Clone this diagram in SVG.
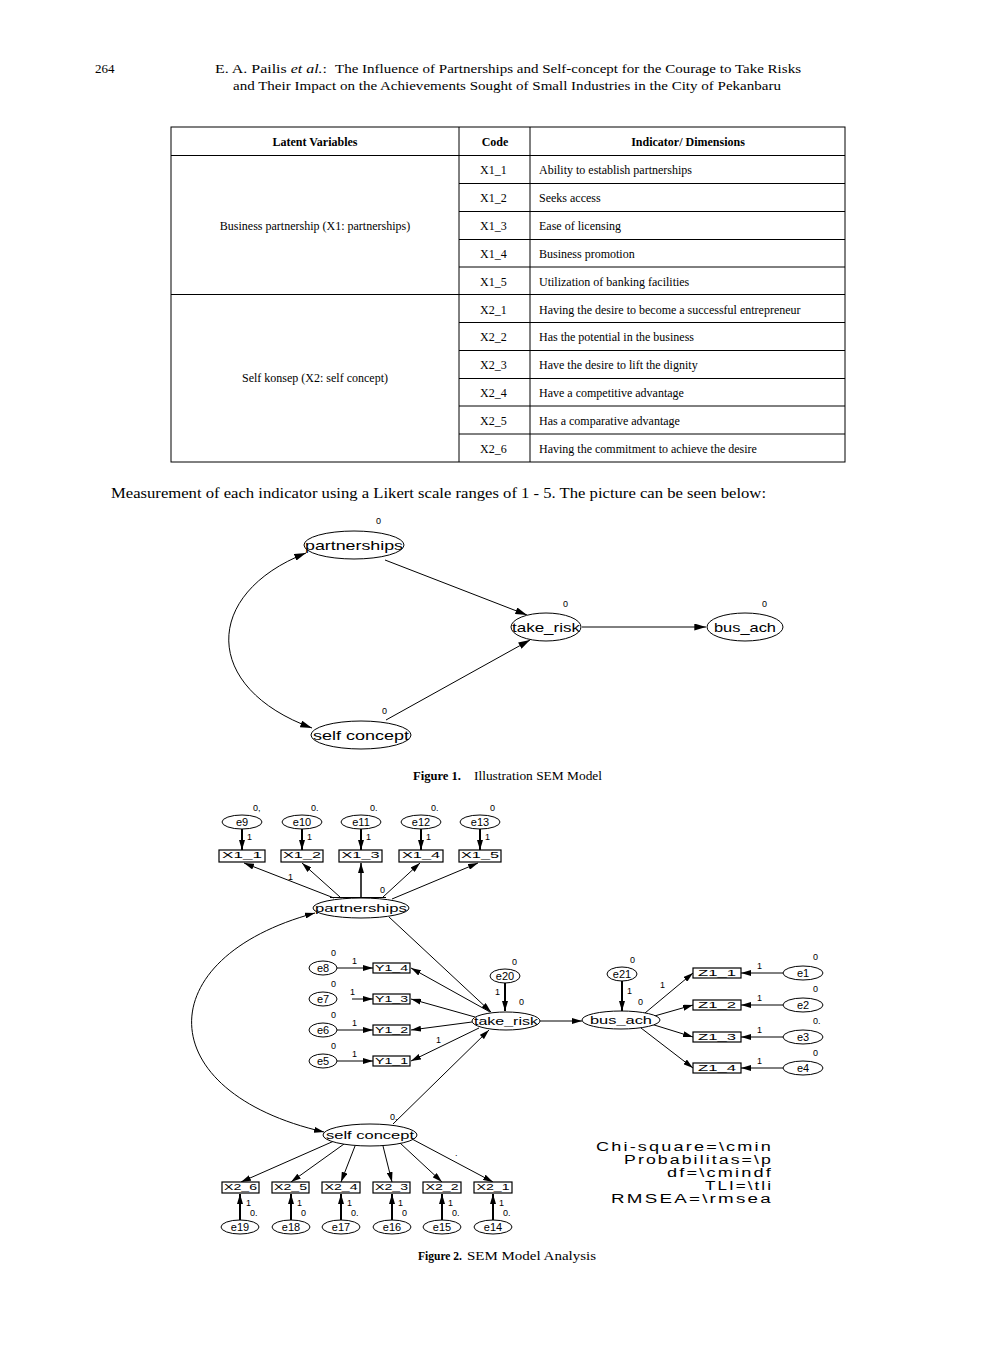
<svg xmlns="http://www.w3.org/2000/svg" width="992" height="1347" viewBox="0 0 992 1347">
<defs>
<marker id="ah" viewBox="0 0 10 6" refX="10" refY="3" markerWidth="12" markerHeight="7" markerUnits="userSpaceOnUse" orient="auto-start-reverse"><path d="M0,0 L10,3 L0,6 Z" fill="#000"/></marker>
<marker id="ahs" viewBox="0 0 10 6" refX="10" refY="3" markerWidth="10" markerHeight="6" markerUnits="userSpaceOnUse" orient="auto-start-reverse"><path d="M0,0 L10,3 L0,6 Z" fill="#000"/></marker>
<style>
.serif{font-family:"Liberation Serif","Times New Roman",serif;fill:#000}
.hd{font-size:13px}
.tb{font-size:12px}
.tbb{font-size:12px;font-weight:bold}
.cap{font-size:12px}
.sans{font-family:"Liberation Sans",Arial,sans-serif;fill:#000}
.n1{font-size:13px}
.n2{font-size:11px}
.bl{font-size:9.5px}
.sm{font-size:9px}
.st{font-size:12.5px;letter-spacing:1.5px}
.ln{stroke:#000;stroke-width:1;fill:none}
.ar{stroke:#000;stroke-width:1;fill:none;marker-end:url(#ah)}
.ar2{stroke:#000;stroke-width:1;fill:none;marker-end:url(#ahs)}
.tk{stroke:#000;stroke-width:2;fill:none;marker-end:url(#ahs)}
.el{fill:#fff;stroke:#000;stroke-width:1}
.bx{fill:#fff;stroke:#000;stroke-width:1.2}
.grid{stroke:#000;stroke-width:1;fill:none}
</style>
</defs>
<rect width="992" height="1347" fill="#fff"/>

<!-- Header -->
<g id="header">
<text class="serif hd" x="95" y="73">264</text>
<text class="serif hd" x="215" y="73" textLength="112" lengthAdjust="spacingAndGlyphs">E. A. Pailis <tspan font-style="italic">et al.</tspan>:</text>
<text class="serif hd" x="335" y="73" textLength="466" lengthAdjust="spacingAndGlyphs">The Influence of Partnerships and Self-concept for the Courage to Take Risks</text>
<text class="serif hd" x="233" y="90" textLength="548" lengthAdjust="spacingAndGlyphs">and Their Impact on the Achievements Sought of Small Industries in the City of Pekanbaru</text>
</g>

<!-- Table -->
<g id="table">
<rect class="grid" x="171" y="127" width="674" height="335"/>
<line class="grid" x1="459" y1="127" x2="459" y2="462"/>
<line class="grid" x1="530" y1="127" x2="530" y2="462"/>
<line class="grid" x1="171" y1="155.5" x2="845" y2="155.5"/>
<line class="grid" x1="171" y1="294.5" x2="845" y2="294.5"/>
<g class="grid">
<line x1="459" y1="183.5" x2="845" y2="183.5"/>
<line x1="459" y1="211.5" x2="845" y2="211.5"/>
<line x1="459" y1="239.5" x2="845" y2="239.5"/>
<line x1="459" y1="267" x2="845" y2="267"/>
<line x1="459" y1="322.5" x2="845" y2="322.5"/>
<line x1="459" y1="350.5" x2="845" y2="350.5"/>
<line x1="459" y1="378.5" x2="845" y2="378.5"/>
<line x1="459" y1="406" x2="845" y2="406"/>
<line x1="459" y1="434" x2="845" y2="434"/>
</g>
<text class="serif tbb" x="315" y="146" text-anchor="middle">Latent Variables</text>
<text class="serif tbb" x="495" y="146" text-anchor="middle">Code</text>
<text class="serif tbb" x="688" y="146" text-anchor="middle">Indicator/ Dimensions</text>
<text class="serif tb" x="315" y="230" text-anchor="middle">Business partnership (X1: partnerships)</text>
<text class="serif tb" x="315" y="382" text-anchor="middle">Self konsep (X2: self concept)</text>
<g class="serif tb">
<text x="480" y="174">X1_1</text><text x="539" y="174">Ability to establish partnerships</text>
<text x="480" y="202">X1_2</text><text x="539" y="202">Seeks access</text>
<text x="480" y="230">X1_3</text><text x="539" y="230">Ease of licensing</text>
<text x="480" y="258">X1_4</text><text x="539" y="258">Business promotion</text>
<text x="480" y="286">X1_5</text><text x="539" y="286">Utilization of banking facilities</text>
<text x="480" y="314">X2_1</text><text x="539" y="314">Having the desire to become a successful entrepreneur</text>
<text x="480" y="341">X2_2</text><text x="539" y="341">Has the potential in the business</text>
<text x="480" y="369">X2_3</text><text x="539" y="369">Have the desire to lift the dignity</text>
<text x="480" y="397">X2_4</text><text x="539" y="397">Have a competitive advantage</text>
<text x="480" y="425">X2_5</text><text x="539" y="425">Has a comparative advantage</text>
<text x="480" y="453">X2_6</text><text x="539" y="453">Having the commitment to achieve the desire</text>
</g>
</g>

<text class="serif" font-size="14" x="111" y="498" textLength="655" lengthAdjust="spacingAndGlyphs">Measurement of each indicator using a Likert scale ranges of 1 - 5. The picture can be seen below:</text>

<!-- Figure 1 -->
<g id="fig1-connectors">
<line class="ar" x1="385" y1="560" x2="527" y2="615"/>
<line class="ar" x1="386" y1="720" x2="530" y2="640"/>
<line class="ar" x1="582" y1="627" x2="706" y2="627"/>
<path class="ar" style="marker-start:url(#ah)" d="M306,553 C202,594 202,688 312,728"/>
</g>
<g id="f1-partnerships"><ellipse class="el" cx="354" cy="545" rx="50" ry="14"/><text class="sans n1" x="354" y="550" text-anchor="middle" textLength="98" lengthAdjust="spacingAndGlyphs">partnerships</text><text class="sans sm" x="376" y="524">0</text></g>
<g id="f1-take_risk"><ellipse class="el" cx="546" cy="627" rx="35" ry="14"/><text class="sans n1" x="546" y="632" text-anchor="middle" textLength="68" lengthAdjust="spacingAndGlyphs">take_risk</text><text class="sans sm" x="563" y="607">0</text></g>
<g id="f1-bus_ach"><ellipse class="el" cx="745" cy="627" rx="38" ry="14"/><text class="sans n1" x="745" y="632" text-anchor="middle" textLength="62" lengthAdjust="spacingAndGlyphs">bus_ach</text><text class="sans sm" x="762" y="607">0</text></g>
<g id="f1-self_concept"><ellipse class="el" cx="361" cy="735" rx="50" ry="14"/><text class="sans n1" x="361" y="740" text-anchor="middle" textLength="96" lengthAdjust="spacingAndGlyphs">self concept</text><text class="sans sm" x="382" y="714">0</text></g>

<g id="caption1">
<text class="serif cap" x="413" y="780" font-weight="bold" textLength="48" lengthAdjust="spacingAndGlyphs">Figure 1.</text>
<text class="serif cap" x="474" y="780" textLength="128" lengthAdjust="spacingAndGlyphs">Illustration SEM Model</text>
</g>

<!-- Figure 2 connectors -->
<g id="fig2-connectors">
<line class="tk" x1="242" y1="829" x2="242" y2="850"/>
<line class="tk" x1="302" y1="829" x2="302" y2="850"/>
<line class="tk" x1="361" y1="829" x2="361" y2="850"/>
<line class="tk" x1="421" y1="829" x2="421" y2="850"/>
<line class="tk" x1="480" y1="829" x2="480" y2="850"/>
<line class="ar2" x1="334" y1="898" x2="244" y2="863"/>
<line class="ar2" x1="340" y1="897" x2="302" y2="863"/>
<line class="ar2" style="stroke-width:1.5" x1="361" y1="898" x2="361" y2="863"/>
<line class="ar2" x1="383" y1="897" x2="420" y2="863"/>
<line class="ar2" x1="392" y1="899" x2="478" y2="863"/>
<line class="ln" x1="330" y1="897.5" x2="386" y2="897.5"/>
<line class="ar2" x1="389" y1="917" x2="491" y2="1012"/>
<line class="ar2" x1="393" y1="1124" x2="489" y2="1030"/>
<path class="ar2" style="marker-start:url(#ahs)" d="M315,913 C148,958 150,1092 324,1132"/>
<line class="ar2" x1="490" y1="1012" x2="411" y2="968"/>
<line class="ar2" x1="475" y1="1017" x2="411" y2="999"/>
<line class="ar2" x1="472" y1="1022" x2="411" y2="1030"/>
<line class="ar2" x1="479" y1="1028" x2="411" y2="1061"/>
<line class="ar2" x1="337" y1="968" x2="373" y2="968"/>
<line class="ar2" x1="352" y1="999" x2="373" y2="999"/>
<line class="ar2" x1="337" y1="1030" x2="373" y2="1030"/>
<line class="ar2" x1="337" y1="1061" x2="373" y2="1061"/>
<line class="tk" x1="505" y1="983" x2="505" y2="1011"/>
<line class="ar2" x1="540" y1="1021" x2="582" y2="1021"/>
<line class="tk" x1="622" y1="981" x2="622" y2="1011"/>
<line class="ar2" x1="645" y1="1013" x2="693" y2="973"/>
<line class="ar2" x1="651" y1="1017" x2="693" y2="1005"/>
<line class="ar2" x1="651" y1="1024" x2="693" y2="1037"/>
<line class="ar2" x1="641" y1="1028" x2="693" y2="1068"/>
<line class="ar2" x1="783" y1="973" x2="741" y2="973"/>
<line class="ar2" x1="783" y1="1005" x2="741" y2="1005"/>
<line class="ar2" x1="783" y1="1037" x2="741" y2="1037"/>
<line class="ar2" x1="783" y1="1068" x2="741" y2="1068"/>
<line class="ar2" x1="334" y1="1141" x2="241" y2="1182"/>
<line class="ar2" x1="344" y1="1144" x2="291" y2="1182"/>
<line class="ar2" x1="355" y1="1146" x2="341" y2="1182"/>
<line class="ar2" x1="383" y1="1146" x2="392" y2="1182"/>
<line class="ar2" x1="400" y1="1143" x2="442" y2="1182"/>
<line class="ar2" x1="412" y1="1139" x2="493" y2="1182"/>
<line class="tk" x1="240" y1="1220" x2="240" y2="1194"/>
<line class="tk" x1="291" y1="1220" x2="291" y2="1194"/>
<line class="tk" x1="341" y1="1220" x2="341" y2="1194"/>
<line class="tk" x1="392" y1="1220" x2="392" y2="1194"/>
<line class="tk" x1="442" y1="1220" x2="442" y2="1194"/>
<line class="tk" x1="493" y1="1220" x2="493" y2="1194"/>
</g>

<g class="sans sm">
<text x="247" y="840">1</text><text x="307" y="840">1</text><text x="366" y="840">1</text><text x="426" y="840">1</text><text x="485" y="840">1</text>
<text x="288" y="880">1</text>
<text x="352" y="964">1</text><text x="350" y="995">1</text><text x="352" y="1026">1</text><text x="352" y="1057">1</text>
<text x="436" y="1043">1</text>
<text x="495" y="995">1</text>
<text x="627" y="994">1</text>
<text x="660" y="988">1</text>
<text x="757" y="969">1</text><text x="757" y="1001">1</text><text x="757" y="1033">1</text><text x="757" y="1064">1</text>
<text x="246" y="1206">1</text><text x="297" y="1206">1</text><text x="347" y="1206">1</text><text x="398" y="1206">1</text><text x="448" y="1206">1</text><text x="499" y="1206">1</text>
<text x="455" y="1156">.</text>
</g>

<g id="e9"><ellipse class="el" cx="242" cy="822" rx="20" ry="7"/><text class="sans n2" x="242" y="826" text-anchor="middle">e9</text><text class="sans sm" x="253" y="811">0,</text></g>
<g id="e10"><ellipse class="el" cx="302" cy="822" rx="20" ry="7"/><text class="sans n2" x="302" y="826" text-anchor="middle">e10</text><text class="sans sm" x="311" y="811">0.</text></g>
<g id="e11"><ellipse class="el" cx="361" cy="822" rx="20" ry="7"/><text class="sans n2" x="361" y="826" text-anchor="middle">e11</text><text class="sans sm" x="370" y="811">0.</text></g>
<g id="e12"><ellipse class="el" cx="421" cy="822" rx="20" ry="7"/><text class="sans n2" x="421" y="826" text-anchor="middle">e12</text><text class="sans sm" x="431" y="811">0.</text></g>
<g id="e13"><ellipse class="el" cx="480" cy="822" rx="20" ry="7"/><text class="sans n2" x="480" y="826" text-anchor="middle">e13</text><text class="sans sm" x="490" y="811">0</text></g>

<g id="X1_1"><rect class="bx" x="219" y="850" width="46" height="12"/><text class="sans bl" x="242" y="858" text-anchor="middle" textLength="40" lengthAdjust="spacingAndGlyphs">X1_1</text></g>
<g id="X1_2"><rect class="bx" x="281" y="850" width="42" height="12"/><text class="sans bl" x="302" y="858" text-anchor="middle" textLength="38" lengthAdjust="spacingAndGlyphs">X1_2</text></g>
<g id="X1_3"><rect class="bx" x="339" y="850" width="43" height="12"/><text class="sans bl" x="360.5" y="858" text-anchor="middle" textLength="38" lengthAdjust="spacingAndGlyphs">X1_3</text></g>
<g id="X1_4"><rect class="bx" x="399" y="850" width="44" height="12"/><text class="sans bl" x="421" y="858" text-anchor="middle" textLength="38" lengthAdjust="spacingAndGlyphs">X1_4</text></g>
<g id="X1_5"><rect class="bx" x="459" y="850" width="42" height="12"/><text class="sans bl" x="480" y="858" text-anchor="middle" textLength="38" lengthAdjust="spacingAndGlyphs">X1_5</text></g>

<g id="f2-partnerships"><ellipse class="el" cx="361" cy="908" rx="48" ry="10"/><text class="sans n2" x="361" y="912" text-anchor="middle" textLength="92" lengthAdjust="spacingAndGlyphs">partnerships</text><text class="sans sm" x="380" y="893">0</text></g>

<g id="e8"><ellipse class="el" cx="323" cy="968" rx="14" ry="7"/><text class="sans n2" x="323" y="972" text-anchor="middle">e8</text><text class="sans sm" x="331" y="956">0</text></g>
<g id="e7"><ellipse class="el" cx="323" cy="999" rx="14" ry="7"/><text class="sans n2" x="323" y="1003" text-anchor="middle">e7</text><text class="sans sm" x="331" y="987">0</text></g>
<g id="e6"><ellipse class="el" cx="323" cy="1030" rx="14" ry="7"/><text class="sans n2" x="323" y="1034" text-anchor="middle">e6</text><text class="sans sm" x="331" y="1018">0</text></g>
<g id="e5"><ellipse class="el" cx="323" cy="1061" rx="14" ry="7"/><text class="sans n2" x="323" y="1065" text-anchor="middle">e5</text><text class="sans sm" x="331" y="1049">0</text></g>

<g id="Y1_4"><rect class="bx" x="373" y="963" width="37" height="10"/><text class="sans bl" x="391.5" y="970.5" text-anchor="middle" textLength="33" lengthAdjust="spacingAndGlyphs">Y1_4</text></g>
<g id="Y1_3"><rect class="bx" x="373" y="994" width="37" height="10"/><text class="sans bl" x="391.5" y="1001.5" text-anchor="middle" textLength="33" lengthAdjust="spacingAndGlyphs">Y1_3</text></g>
<g id="Y1_2"><rect class="bx" x="373" y="1025" width="37" height="10"/><text class="sans bl" x="391.5" y="1032.5" text-anchor="middle" textLength="33" lengthAdjust="spacingAndGlyphs">Y1_2</text></g>
<g id="Y1_1"><rect class="bx" x="373" y="1056" width="37" height="10"/><text class="sans bl" x="391.5" y="1063.5" text-anchor="middle" textLength="33" lengthAdjust="spacingAndGlyphs">Y1_1</text></g>

<g id="e20"><ellipse class="el" cx="505" cy="976" rx="15" ry="7"/><text class="sans n2" x="505" y="980" text-anchor="middle">e20</text><text class="sans sm" x="512" y="965">0</text></g>
<g id="f2-take_risk"><ellipse class="el" cx="506" cy="1021" rx="34" ry="9"/><text class="sans n2" x="506" y="1025" text-anchor="middle" textLength="64" lengthAdjust="spacingAndGlyphs">take_risk</text><text class="sans sm" x="519" y="1005">0</text></g>

<g id="e21"><ellipse class="el" cx="622" cy="974" rx="15" ry="7"/><text class="sans n2" x="622" y="978" text-anchor="middle">e21</text><text class="sans sm" x="630" y="963">0</text></g>
<g id="f2-bus_ach"><ellipse class="el" cx="621" cy="1020" rx="39" ry="9"/><text class="sans n2" x="621" y="1024" text-anchor="middle" textLength="62" lengthAdjust="spacingAndGlyphs">bus_ach</text><text class="sans sm" x="638" y="1005">0</text></g>

<g id="Z1_1"><rect class="bx" x="693" y="968" width="48" height="10"/><text class="sans bl" x="717" y="975.5" text-anchor="middle" textLength="38" lengthAdjust="spacingAndGlyphs">Z1_1</text></g>
<g id="Z1_2"><rect class="bx" x="693" y="1000" width="48" height="10"/><text class="sans bl" x="717" y="1007.5" text-anchor="middle" textLength="38" lengthAdjust="spacingAndGlyphs">Z1_2</text></g>
<g id="Z1_3"><rect class="bx" x="693" y="1032" width="48" height="10"/><text class="sans bl" x="717" y="1039.5" text-anchor="middle" textLength="38" lengthAdjust="spacingAndGlyphs">Z1_3</text></g>
<g id="Z1_4"><rect class="bx" x="693" y="1063" width="48" height="10"/><text class="sans bl" x="717" y="1070.5" text-anchor="middle" textLength="38" lengthAdjust="spacingAndGlyphs">Z1_4</text></g>

<g id="e1"><ellipse class="el" cx="803" cy="973" rx="20" ry="7"/><text class="sans n2" x="803" y="977" text-anchor="middle">e1</text><text class="sans sm" x="813" y="960">0</text></g>
<g id="e2"><ellipse class="el" cx="803" cy="1005" rx="20" ry="7"/><text class="sans n2" x="803" y="1009" text-anchor="middle">e2</text><text class="sans sm" x="813" y="992">0</text></g>
<g id="e3"><ellipse class="el" cx="803" cy="1037" rx="20" ry="7"/><text class="sans n2" x="803" y="1041" text-anchor="middle">e3</text><text class="sans sm" x="813" y="1024">0.</text></g>
<g id="e4"><ellipse class="el" cx="803" cy="1068" rx="20" ry="7"/><text class="sans n2" x="803" y="1072" text-anchor="middle">e4</text><text class="sans sm" x="813" y="1056">0</text></g>

<g id="f2-self_concept"><ellipse class="el" cx="370" cy="1135" rx="47" ry="11"/><text class="sans n2" x="370" y="1139" text-anchor="middle" textLength="88" lengthAdjust="spacingAndGlyphs">self concept</text><text class="sans sm" x="390" y="1120">0.</text></g>

<g id="X2_6"><rect class="bx" x="222" y="1182" width="37" height="11"/><text class="sans bl" x="240.5" y="1189.5" text-anchor="middle" textLength="33" lengthAdjust="spacingAndGlyphs">X2_6</text></g>
<g id="X2_5"><rect class="bx" x="272" y="1182" width="37" height="11"/><text class="sans bl" x="290.5" y="1189.5" text-anchor="middle" textLength="33" lengthAdjust="spacingAndGlyphs">X2_5</text></g>
<g id="X2_4"><rect class="bx" x="322" y="1182" width="38" height="11"/><text class="sans bl" x="341" y="1189.5" text-anchor="middle" textLength="33" lengthAdjust="spacingAndGlyphs">X2_4</text></g>
<g id="X2_3"><rect class="bx" x="373" y="1182" width="37" height="11"/><text class="sans bl" x="391.5" y="1189.5" text-anchor="middle" textLength="33" lengthAdjust="spacingAndGlyphs">X2_3</text></g>
<g id="X2_2"><rect class="bx" x="423" y="1182" width="38" height="11"/><text class="sans bl" x="442" y="1189.5" text-anchor="middle" textLength="33" lengthAdjust="spacingAndGlyphs">X2_2</text></g>
<g id="X2_1"><rect class="bx" x="474" y="1182" width="38" height="11"/><text class="sans bl" x="493" y="1189.5" text-anchor="middle" textLength="33" lengthAdjust="spacingAndGlyphs">X2_1</text></g>

<g id="e19"><ellipse class="el" cx="240" cy="1227" rx="19" ry="7"/><text class="sans n2" x="240" y="1231" text-anchor="middle">e19</text><text class="sans sm" x="250" y="1216">0.</text></g>
<g id="e18"><ellipse class="el" cx="291" cy="1227" rx="19" ry="7"/><text class="sans n2" x="291" y="1231" text-anchor="middle">e18</text><text class="sans sm" x="301" y="1216">0</text></g>
<g id="e17"><ellipse class="el" cx="341" cy="1227" rx="19" ry="7"/><text class="sans n2" x="341" y="1231" text-anchor="middle">e17</text><text class="sans sm" x="351" y="1216">0.</text></g>
<g id="e16"><ellipse class="el" cx="392" cy="1227" rx="19" ry="7"/><text class="sans n2" x="392" y="1231" text-anchor="middle">e16</text><text class="sans sm" x="402" y="1216">0</text></g>
<g id="e15"><ellipse class="el" cx="442" cy="1227" rx="19" ry="7"/><text class="sans n2" x="442" y="1231" text-anchor="middle">e15</text><text class="sans sm" x="452" y="1216">0.</text></g>
<g id="e14"><ellipse class="el" cx="493" cy="1227" rx="19" ry="7"/><text class="sans n2" x="493" y="1231" text-anchor="middle">e14</text><text class="sans sm" x="503" y="1216">0.</text></g>

<g id="fit-stats" class="sans st">
<text x="596" y="1151" textLength="177" lengthAdjust="spacingAndGlyphs">Chi-square=\cmin</text>
<text x="624" y="1164" textLength="149" lengthAdjust="spacingAndGlyphs">Probabilitas=\p</text>
<text x="667" y="1177" textLength="106" lengthAdjust="spacingAndGlyphs">df=\cmindf</text>
<text x="705" y="1190" textLength="68" lengthAdjust="spacingAndGlyphs">TLI=\tli</text>
<text x="611" y="1203" textLength="162" lengthAdjust="spacingAndGlyphs">RMSEA=\rmsea</text>
</g>

<g id="caption2">
<text class="serif cap" x="418" y="1260" font-weight="bold" textLength="44" lengthAdjust="spacingAndGlyphs">Figure 2.</text>
<text class="serif cap" x="467" y="1260" textLength="129" lengthAdjust="spacingAndGlyphs">SEM Model Analysis</text>
</g>
</svg>
